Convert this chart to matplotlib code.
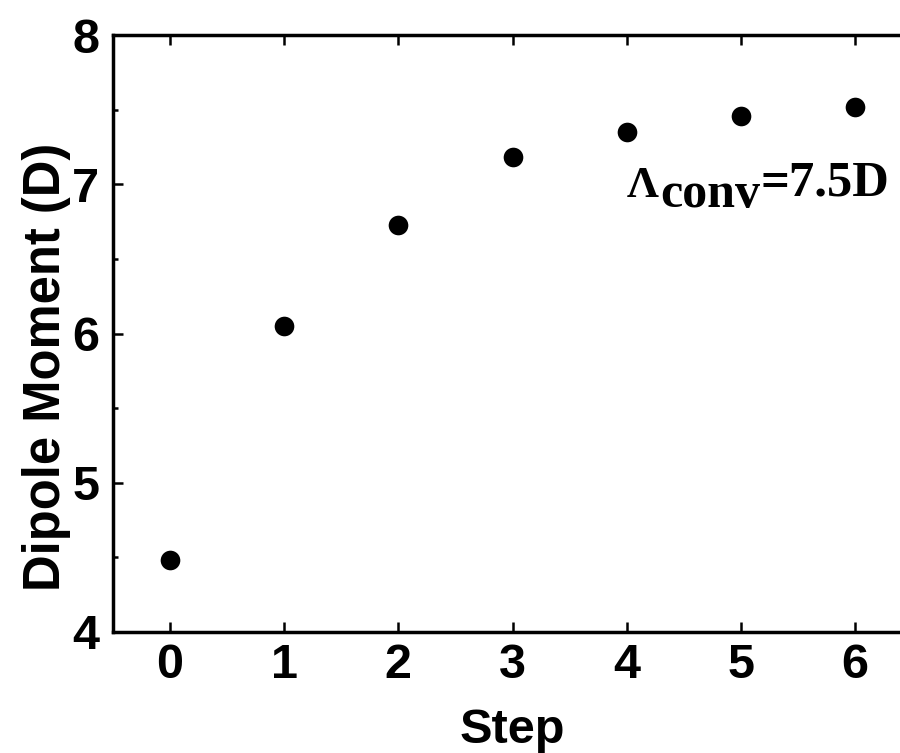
import matplotlib
matplotlib.use("Agg")
import matplotlib.pyplot as plt
from matplotlib.ticker import MultipleLocator

steps = [0, 1, 2, 3, 4, 5, 6]
dipole = [4.48, 6.05, 6.73, 7.18, 7.35, 7.46, 7.52]
xticks = [0, 1, 2, 3, 4, 5, 6]
yticks = [4, 5, 6, 7, 8]

plt.rcParams['font.family'] = ['Liberation Sans', 'DejaVu Sans']
plt.rcParams['font.weight'] = 'bold'

fig = plt.figure(figsize=(9, 7.53), dpi=100)
ax = fig.add_axes([0.1256, 0.1607, 0.8877, 0.7928])
ax.scatter(steps, dipole, s=200, color='black', zorder=3, linewidths=0)
ax.set_xlim(-0.5, 6.5)
ax.set_ylim(4, 8)
ax.set_xticks(xticks)
ax.set_yticks(yticks)
ax.yaxis.set_minor_locator(MultipleLocator(0.5))
for sp in ax.spines.values():
    sp.set_linewidth(2.5)
ax.tick_params(which='major', direction='in', length=7, width=1.8, top=True, right=True,
               labelsize=35, pad=8)
ax.tick_params(axis='y', which='major', pad=10)
ax.tick_params(which='minor', direction='in', length=3.5, width=1.8, right=True)
for lab in ax.get_xticklabels() + ax.get_yticklabels():
    lab.set_fontweight('bold')
ax.set_xlabel('Step', fontsize=35, fontweight='bold', labelpad=14)
ax.set_ylabel('Dipole Moment (D)', fontsize=36.5, fontweight='bold')
ax.yaxis.set_label_coords(-0.0526, 0.444)

# annotation Λconv=7.5D
fig.canvas.draw()
r = fig.canvas.get_renderer()
serif = dict(family='Liberation Serif', fontweight='bold', color='black', va='baseline')
t1 = fig.text(627/900, 1-197/753, 'Λ', fontsize=32, **serif)
fig.canvas.draw()
x1 = t1.get_window_extent(r).x1
t2 = fig.text((x1 + 1)/900, 1-207/753, 'conv', fontsize=36, **serif)
fig.canvas.draw()
x2 = t2.get_window_extent(r).x1
fig.text((x2 + 1)/900, 1-195/753, '=7.5D', fontsize=36.5, **serif)

fig.savefig('out.png', dpi=100)
